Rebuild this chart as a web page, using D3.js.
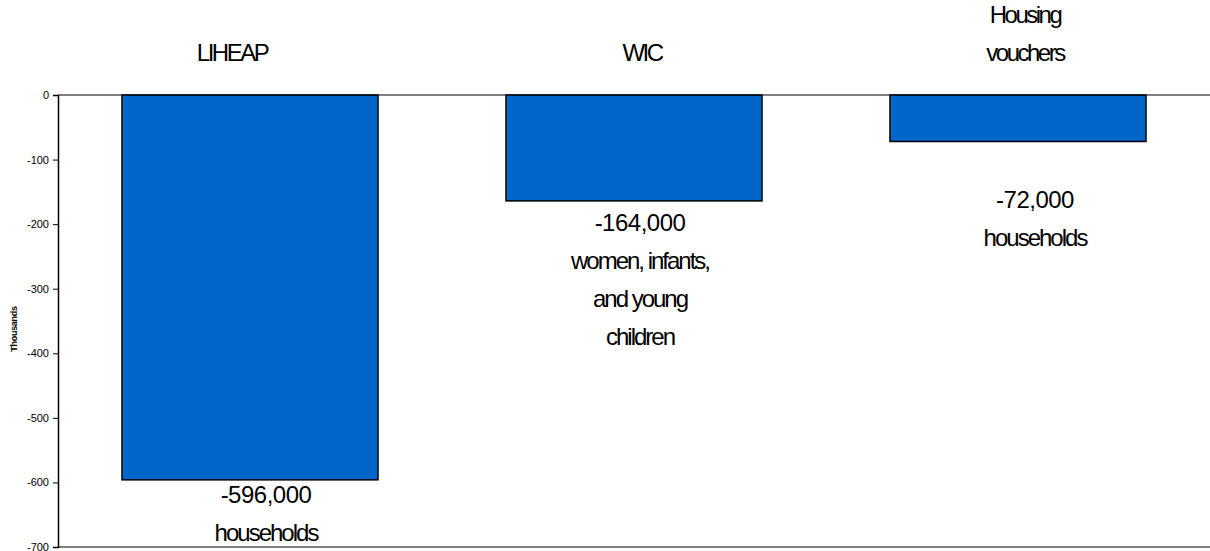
<!DOCTYPE html>
<html lang="en">
<head>
    <meta charset="UTF-8">
    <title>Change in participants</title>
    <script src="https://d3js.org/d3.v7.min.js"></script>
    <style>
        body { margin: 0; background: #fff; }
        svg { display: block; font-family: "Liberation Sans", Arial, sans-serif; }
        .tick text { font-size: 11px; fill: #000; }
        .big { font-size: 24px; fill: #000; text-anchor: middle; }
    </style>
</head>
<body>
    <div id="chart"></div>

    <script>
        // chart data
        const categories = [["LIHEAP"], ["WIC"], ["Housing", "vouchers"]];
        const values = [-596, -164, -72];
        const valueLabels = ["-596,000", "-164,000", "-72,000"];
        const unitLabels = [["households"], ["women, infants,", "and young", "children"], ["households"]];
        const yTicks = [0, -100, -200, -300, -400, -500, -600, -700];
        const yTitle = "Thousands";

        // layout nudges (px) for the text boxes, as placed in the original
        const catDx = [-18, 8, 7];
        const labDx = [16, 6, 17];
        const labDy = [15, 22, 59];

        const width = 1210;
        const height = 551;
        const margin = { top: 95, right: 0, bottom: 4, left: 58 };

        const svg = d3.select("#chart")
                      .append("svg")
                      .attr("width", width)
                      .attr("height", height);

        const x = d3.scaleBand()
                    .domain(d3.range(categories.length))
                    .range([margin.left, width - margin.right])
                    .paddingInner(1 / 3)
                    .paddingOuter(1 / 6);

        const y = d3.scaleLinear()
                    .domain([-700, 0])
                    .range([height - margin.bottom, margin.top]);

        // gray lines at zero and at the bottom of the plot
        svg.append("g")
           .selectAll("line")
           .data([0, -700])
           .enter()
           .append("line")
           .attr("x1", margin.left)
           .attr("x2", width)
           .attr("y1", d => y(d))
           .attr("y2", d => y(d))
           .attr("stroke", "#808080")
           .attr("stroke-width", 2);

        // bars
        svg.append("g")
           .selectAll("rect")
           .data(values)
           .enter()
           .append("rect")
           .attr("x", (d, i) => x(i))
           .attr("width", x.bandwidth())
           .attr("y", y(0))
           .attr("height", d => y(d) - y(0))
           .attr("fill", "#0066CC")
           .attr("stroke", "#000")
           .attr("stroke-width", 1.5);

        // y axis
        const yAxis = svg.append("g")
           .attr("transform", `translate(${margin.left},0)`)
           .call(d3.axisLeft(y)
                   .tickValues(yTicks)
                   .tickSize(5)
                   .tickPadding(4)
                   .tickFormat(d => String(d)));
        yAxis.select(".domain").attr("stroke", "#000").attr("stroke-width", 1.5);
        yAxis.selectAll(".tick line").attr("stroke", "#000");
        yAxis.selectAll(".tick text").attr("font-family", "Liberation Sans, Arial, sans-serif");

        svg.append("text")
           .attr("transform", `translate(17,${(y(-300) + y(-400)) / 2 + 8}) rotate(-90)`)
           .attr("text-anchor", "middle")
           .attr("font-size", 9)
           .attr("font-weight", "bold")
           .attr("letter-spacing", "-0.3px")
           .attr("fill", "#000")
           .text(yTitle);

        // category names above the zero line
        const lineH = 38;
        categories.forEach((lines, i) => {
            const cx = x(i) + x.bandwidth() / 2 + catDx[i];
            const base = 61 - (lines.length - 1) * lineH;
            lines.forEach((t, j) => {
                svg.append("text")
                   .attr("class", "big")
                   .attr("x", cx)
                   .attr("y", base + j * lineH)
                   .attr("letter-spacing", "-2.5px")
                   .text(t);
            });
        });

        // value labels under each bar
        values.forEach((v, i) => {
            const cx = x(i) + x.bandwidth() / 2 + labDx[i];
            const top = y(v) + labDy[i] + 8;
            svg.append("text")
               .attr("class", "big")
               .attr("x", cx)
               .attr("y", top)
               .attr("letter-spacing", "-0.5px")
               .text(valueLabels[i]);
            unitLabels[i].forEach((t, j) => {
                svg.append("text")
                   .attr("class", "big")
                   .attr("x", cx)
                   .attr("y", top + (j + 1) * lineH)
                   .attr("letter-spacing", "-2px")
                   .text(t);
            });
        });
    </script>
</body>
</html>
